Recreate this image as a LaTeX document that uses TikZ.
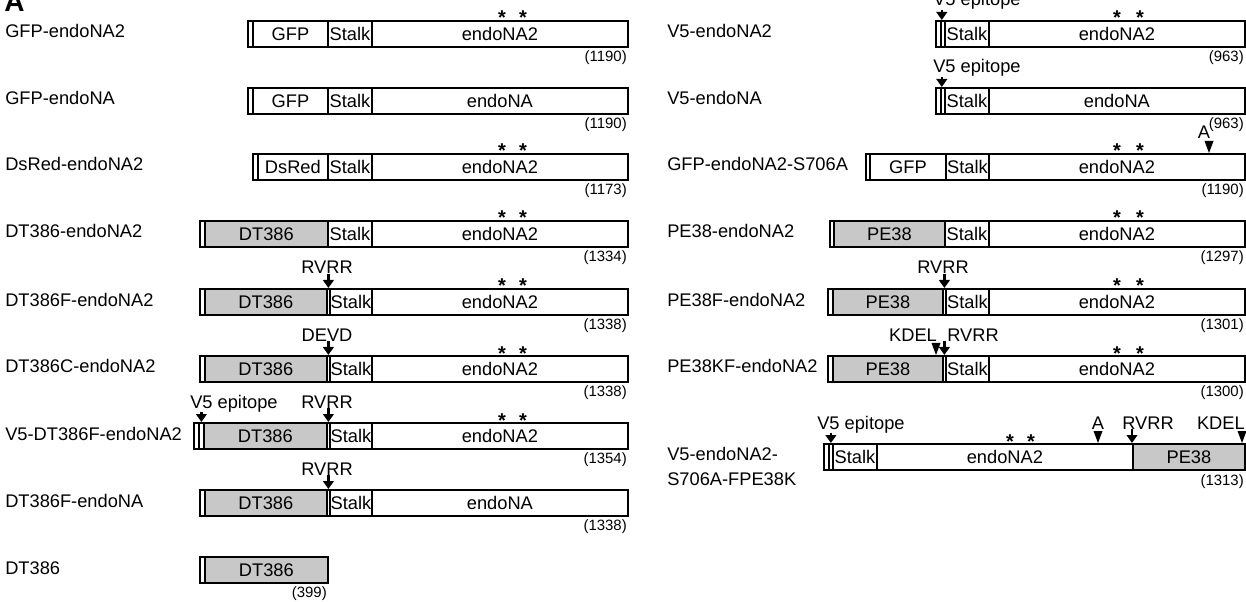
\documentclass[tikz,border=0pt]{standalone}
\usepackage{fontspec}
\setmainfont{Liberation Sans}
\usepackage{tikz}
\usepackage{color}
\usetikzlibrary{arrows.meta}
\definecolor{toxgray}{RGB}{200,200,200}
\newcommand{\lbfont}{\fontsize{13.7}{16}\selectfont}
\newcommand{\nmfont}{\fontsize{11.2}{13}\selectfont}

\begin{document}
\begin{tikzpicture}[x=0.75pt,y=0.75pt,yscale=-1,xscale=1,
  dom/.style={draw, line width=1.35pt, fill=white, inner sep=0pt, anchor=north west,
    minimum height=26*0.75pt, minimum width=#1*0.75pt, font=\lbfont},
  tox/.style={dom=#1, fill=toxgray},
  cname/.style={font=\lbfont, inner sep=0pt, anchor=base west},
  len/.style={font=\nmfont, inner sep=0pt, anchor=base east},
  site/.style={font=\lbfont, inner sep=0pt, anchor=base},
  star/.style={font=\bfseries\fontsize{15}{16}\selectfont, inner sep=0pt, anchor=base},
  cut/.style={line width=1.7pt, -{Triangle[width=8pt,length=6pt]}},
  mut/.style={fill=black}]
\useasboundingbox (0,0) rectangle (1246,602);

% Panel letter
\node[font=\bfseries\fontsize{21}{24}\selectfont, inner sep=0pt, anchor=base west] (pan) at (4,12) {A};

%%%%% left column
% GFP-endoNA2
\node[cname] (nA1) at (5,38) {GFP-endoNA2};
\node[dom=5] (tA1) at (247,20) {};
\node[dom=75] (gA1) at (252,20) {GFP};
\node[dom=44] (sA1) at (327,20) {Stalk};
\node[dom=256] (eA1) at (371,20) {endoNA2};
\node[star] (xA1) at (502,25) {*};
\node[star] (yA1) at (523,25) {*};
\node[len] (lA1) at (627,61.5) {(1190)};

% GFP-endoNA
\node[cname] (nA2) at (5,105) {GFP-endoNA};
\node[dom=5] (tA2) at (247,87) {};
\node[dom=75] (gA2) at (252,87) {GFP};
\node[dom=44] (sA2) at (327,87) {Stalk};
\node[dom=256] (eA2) at (371,87) {endoNA};
\node[len] (lA2) at (627,128.5) {(1190)};

% DsRed-endoNA2
\node[cname] (nA3) at (5,171) {DsRed-endoNA2};
\node[dom=5] (tA3) at (252,153) {};
\node[dom=70] (gA3) at (257,153) {DsRed};
\node[dom=44] (sA3) at (327,153) {Stalk};
\node[dom=256] (eA3) at (371,153) {endoNA2};
\node[star] (xA3) at (502,158) {*};
\node[star] (yA3) at (523,158) {*};
\node[len] (lA3) at (627,194.5) {(1173)};

% DT386-endoNA2
\node[cname] (nA4) at (5,238) {DT386-endoNA2};
\node[dom=5] (tA4) at (199,220) {};
\node[tox=123] (gA4) at (204,220) {DT386};
\node[dom=44] (sA4) at (327,220) {Stalk};
\node[dom=256] (eA4) at (371,220) {endoNA2};
\node[star] (xA4) at (502,225) {*};
\node[star] (yA4) at (523,225) {*};
\node[len] (lA4) at (627,261.5) {(1334)};

% DT386F-endoNA2
\node[cname] (nA5) at (5,306) {DT386F-endoNA2};
\node[dom=5] (tA5) at (199,288) {};
\node[tox=122] (gA5) at (204,288) {DT386};
\node[dom=3] (cA5) at (326,288) {};
\node[dom=42] (sA5) at (329,288) {Stalk};
\node[dom=256] (eA5) at (371,288) {endoNA2};
\node[star] (xA5) at (502,293) {*};
\node[star] (yA5) at (523,293) {*};
\node[site] (rA5) at (327,274) {RVRR};
\draw[cut] (rA5.south -| cA5.north) -- (cA5.north);
\node[len] (lA5) at (627,329.5) {(1338)};

% DT386C-endoNA2
\node[cname] (nA6) at (5,373) {DT386C-endoNA2};
\node[dom=5] (tA6) at (199,355) {};
\node[tox=122] (gA6) at (204,355) {DT386};
\node[dom=3] (cA6) at (326,355) {};
\node[dom=42] (sA6) at (329,355) {Stalk};
\node[dom=256] (eA6) at (371,355) {endoNA2};
\node[star] (xA6) at (502,360) {*};
\node[star] (yA6) at (523,360) {*};
\node[site] (rA6) at (327,341) {DEVD};
\draw[cut] (rA6.south -| cA6.north) -- (cA6.north);
\node[len] (lA6) at (627,396.5) {(1338)};

% V5-DT386F-endoNA2
\node[cname] (nA7) at (5,440) {V5-DT386F-endoNA2};
\node[dom=5] (vA7) at (193,422) {};
\node[dom=5] (tA7) at (198,422) {};
\node[tox=123] (gA7) at (203,422) {DT386};
\node[dom=3] (cA7) at (326,422) {};
\node[dom=42] (sA7) at (329,422) {Stalk};
\node[dom=256] (eA7) at (371,422) {endoNA2};
\node[star] (xA7) at (502,427) {*};
\node[star] (yA7) at (523,427) {*};
\node[site, anchor=base west] (pA7) at (190,408) {V5 epitope};
\draw[cut] (pA7.south west -| tA7.north) -- (tA7.north);
\node[site] (rA7) at (327,408) {RVRR};
\draw[cut] (rA7.south -| cA7.north) -- (cA7.north);
\node[len] (lA7) at (627,463.5) {(1354)};

% DT386F-endoNA
\node[cname] (nA8) at (5,507) {DT386F-endoNA};
\node[dom=5] (tA8) at (199,489) {};
\node[tox=122] (gA8) at (204,489) {DT386};
\node[dom=3] (cA8) at (326,489) {};
\node[dom=42] (sA8) at (329,489) {Stalk};
\node[dom=256] (eA8) at (371,489) {endoNA};
\node[site] (rA8) at (327,475) {RVRR};
\draw[cut] (rA8.south -| cA8.north) -- (cA8.north);
\node[len] (lA8) at (627,530.5) {(1338)};

% DT386
\node[cname] (nA9) at (5,574) {DT386};
\node[dom=5] (tA9) at (199,556) {};
\node[tox=123] (gA9) at (204,556) {DT386};
\node[len] (lA9) at (327,597.5) {(399)};

%%%%% right column
% V5-endoNA2
\node[cname] (nB1) at (667,38) {V5-endoNA2};
\node[dom=5] (vB1) at (935,20) {};
\node[dom=4] (tB1) at (940,20) {};
\node[dom=44] (sB1) at (944,20) {Stalk};
\node[dom=256] (eB1) at (988,20) {endoNA2};
\node[star] (xB1) at (1117,25) {*};
\node[star] (yB1) at (1140,25) {*};
\node[site, anchor=base west] (pB1) at (933,6) {V5 epitope};
\draw[cut] (pB1.south west -| vB1.north east) -- (vB1.north east);
\node[len] (lB1) at (1244,61.5) {(963)};

% V5-endoNA
\node[cname] (nB2) at (667,105) {V5-endoNA};
\node[dom=5] (vB2) at (935,87) {};
\node[dom=4] (tB2) at (940,87) {};
\node[dom=44] (sB2) at (944,87) {Stalk};
\node[dom=256] (eB2) at (988,87) {endoNA};
\node[site, anchor=base west] (pB2) at (933,73) {V5 epitope};
\draw[cut] (pB2.south west -| vB2.north east) -- (vB2.north east);
\node[len] (lB2) at (1244,128.5) {(963)};

% GFP-endoNA2-S706A
\node[cname] (nB3) at (667,171) {GFP-endoNA2-S706A};
\node[dom=4] (tB3) at (865,153) {};
\node[dom=76] (gB3) at (869,153) {GFP};
\node[dom=43] (sB3) at (945,153) {Stalk};
\node[dom=256] (eB3) at (988,153) {endoNA2};
\node[star] (xB3) at (1117,158) {*};
\node[star] (yB3) at (1140,158) {*};
\node[site] (aB3) at (1204,139) {A};
\fill[mut] (1204.5,141) -- (1213.5,141) -- (1209,153) -- cycle;
\node[len] (lB3) at (1244,194.5) {(1190)};

% PE38-endoNA2
\node[cname] (nB4) at (667,238) {PE38-endoNA2};
\node[dom=4] (tB4) at (829,220) {};
\node[tox=111] (gB4) at (833,220) {PE38};
\node[dom=44] (sB4) at (944,220) {Stalk};
\node[dom=256] (eB4) at (988,220) {endoNA2};
\node[star] (xB4) at (1117,225) {*};
\node[star] (yB4) at (1140,225) {*};
\node[len] (lB4) at (1244,261.5) {(1297)};

% PE38F-endoNA2
\node[cname] (nB5) at (667,306) {PE38F-endoNA2};
\node[dom=5] (tB5) at (827,288) {};
\node[tox=110] (gB5) at (832,288) {PE38};
\node[dom=3] (cB5) at (942,288) {};
\node[dom=43] (sB5) at (945,288) {Stalk};
\node[dom=256] (eB5) at (988,288) {endoNA2};
\node[star] (xB5) at (1117,293) {*};
\node[star] (yB5) at (1140,293) {*};
\node[site] (rB5) at (943,274) {RVRR};
\draw[cut] (rB5.south -| cB5.north) -- (cB5.north);
\node[len] (lB5) at (1244,329.5) {(1301)};

% PE38KF-endoNA2
\node[cname] (nB6) at (667,373) {PE38KF-endoNA2};
\node[dom=5] (tB6) at (827,355) {};
\node[tox=110] (gB6) at (832,355) {PE38};
\node[dom=3] (cB6) at (942,355) {};
\node[dom=43] (sB6) at (945,355) {Stalk};
\node[dom=256] (eB6) at (988,355) {endoNA2};
\node[star] (xB6) at (1117,360) {*};
\node[star] (yB6) at (1140,360) {*};
\node[site] (kB6) at (913,341) {KDEL};
\fill[mut] (931.5,343) -- (940.5,343) -- (936,355) -- cycle;
\node[site, anchor=base west] (rB6) at (947,341) {RVRR};
\draw[cut] (rB6.south west -| cB6.north) -- (cB6.north);
\node[len] (lB6) at (1244,396.5) {(1300)};

% V5-endoNA2-S706A-FPE38K
\node[cname] (nB7) at (667,460) {V5-endoNA2-};
\node[cname] (nB7b) at (667,485) {S706A-FPE38K};
\node[dom=5] (vB7) at (823,443) {};
\node[dom=4] (tB7) at (828,443) {};
\node[dom=44] (sB7) at (832,443) {Stalk};
\node[dom=256] (eB7) at (876,443) {endoNA2};
\node[tox=112] (gB7) at (1132,443) {PE38};
\node[star] (xB7) at (1010,448) {*};
\node[star] (yB7) at (1031,448) {*};
\node[site, anchor=base west] (pB7) at (817,429) {V5 epitope};
\draw[cut] (pB7.south west -| tB7.north) -- (tB7.north);
\node[site] (aB7) at (1098,429) {A};
\fill[mut] (1093.5,431) -- (1102.5,431) -- (1098,443) -- cycle;
\node[site] (rB7) at (1148,429) {RVRR};
\draw[cut] (rB7.south -| gB7.north west) -- (gB7.north west);
\node[site, anchor=base east] (kB7) at (1245,429) {KDEL};
\fill[mut] (1237.5,431) -- (1246.5,431) -- (1242,443) -- cycle;
\node[len] (lB7) at (1244,485.5) {(1313)};

\end{tikzpicture}
\end{document}
